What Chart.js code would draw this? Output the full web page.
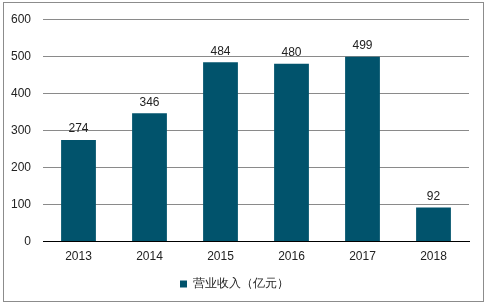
<!DOCTYPE html>
<html>
<head>
<meta charset="utf-8">
<script src="https://cdn.jsdelivr.net/npm/chart.js@4"></script>
<style>
  html, body { margin: 0; padding: 0; background: #fff; }
  #wrap { position: relative; width: 487px; height: 306px; }
  #frame { position: absolute; left: 3px; top: 2px; width: 479px; height: 298px; border: 1px solid #8c8c8c; box-sizing: content-box; pointer-events: none; }
</style>
</head>
<body>
<div id="wrap">
  <canvas id="chart" width="487" height="306"></canvas>
  <div id="frame"></div>
</div>
<script>
  // data
  const years = ["2013", "2014", "2015", "2016", "2017", "2018"];
  const revenue = [274, 346, 484, 480, 499, 92];
  const seriesName = "营业收入（亿元）";

  // draw the value above each bar
  const valueLabels = {
    id: "valueLabels",
    afterDatasetsDraw(chart) {
      const ctx = chart.ctx;
      ctx.save();
      ctx.font = "12px 'Liberation Sans', Arial, sans-serif";
      ctx.fillStyle = "#222";
      ctx.textAlign = "center";
      ctx.textBaseline = "bottom";
      chart.getDatasetMeta(0).data.forEach((bar, i) => {
        ctx.fillText(revenue[i], bar.x, bar.y - 5);
      });
      ctx.restore();
    }
  };

  Chart.defaults.font.family = "'Liberation Sans', Arial, sans-serif";
  Chart.defaults.font.size = 12;
  Chart.defaults.color = "#222";

  new Chart(document.getElementById("chart"), {
    type: "bar",
    data: {
      labels: years,
      datasets: [{
        label: seriesName,
        data: revenue,
        backgroundColor: "#01536c",
        barPercentage: 1,
        categoryPercentage: 0.49
      }]
    },
    options: {
      responsive: false,
      animation: false,
      layout: { padding: { left: 0, right: 18, top: 0, bottom: 6 } },
      plugins: {
        legend: {
          position: "bottom",
          labels: { boxWidth: 7, boxHeight: 7, padding: 14, color: "#222", font: { size: 12 } }
        },
        tooltip: { enabled: false }
      },
      scales: {
        x: {
          grid: { display: false },
          border: { color: "#000", width: 1 },
          ticks: { padding: 0 }
        },
        y: {
          min: 0,
          max: 600,
          ticks: { stepSize: 100, padding: 12 },
          grid: { color: "#8a8a8a", drawTicks: false },
          border: { display: false },
          afterFit(scale) { scale.width = 43; }
        }
      }
    },
    plugins: [valueLabels]
  });
</script>
</body>
</html>
